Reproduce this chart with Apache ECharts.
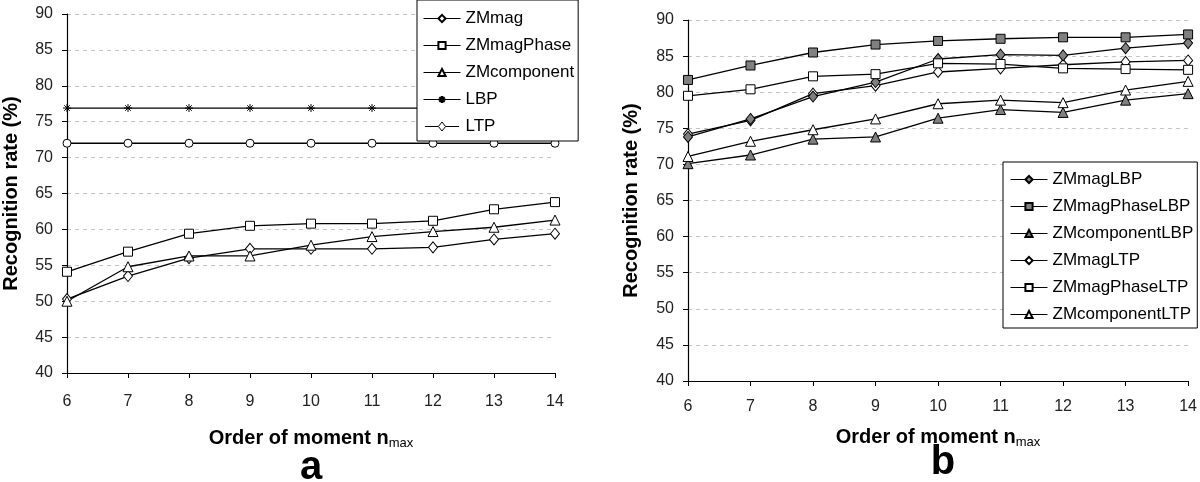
<!DOCTYPE html>
<html>
<head>
<meta charset="utf-8">
<script src="https://cdn.jsdelivr.net/npm/echarts@6/dist/echarts.min.js"></script>
<style>html,body{margin:0;padding:0;background:#fff}#c{width:1200px;height:482px}</style>
</head>
<body>
<div id="c"></div>
<script>
// ---- data ----
const orders = [6, 7, 8, 9, 10, 11, 12, 13, 14];
const yTicks = [40, 45, 50, 55, 60, 65, 70, 75, 80, 85, 90];

// panel a
const ZMmag        = [50.3, 53.5, 56.0, 57.3, 57.3, 57.3, 57.5, 58.6, 59.4];
const ZMmagPhase   = [54.1, 56.9, 59.4, 60.5, 60.8, 60.8, 61.2, 62.8, 63.8];
const ZMcomponent  = [50.0, 54.8, 56.3, 56.3, 57.8, 59.0, 59.7, 60.3, 61.3];
const LBP          = [76.9, 76.9, 76.9, 76.9, 76.9, 76.9, 76.9, 76.9, 76.9];
const LTP          = [72.0, 72.0, 72.0, 72.0, 72.0, 72.0, 72.0, 72.0, 72.0];

// panel b
const ZMmagLBP          = [73.8, 76.3, 79.4, 81.4, 84.6, 85.2, 85.1, 86.1, 86.8];
const ZMmagPhaseLBP     = [81.7, 83.7, 85.5, 86.6, 87.1, 87.4, 87.6, 87.6, 88.0];
const ZMcomponentLBP    = [70.1, 71.3, 73.5, 73.8, 76.4, 77.6, 77.2, 78.9, 79.8];
const ZMmagLTP          = [74.2, 76.1, 79.8, 80.9, 82.8, 83.3, 83.8, 84.2, 84.4];
const ZMmagPhaseLTP     = [79.5, 80.4, 82.2, 82.5, 84.0, 83.9, 83.3, 83.2, 83.1];
const ZMcomponentLTP    = [71.1, 73.2, 74.8, 76.3, 78.4, 78.9, 78.55, 80.3, 81.5];

const FONT = 'Liberation Sans, Arial, sans-serif';
const pairs = arr => orders.map((x, i) => [x, arr[i]]);
const star = 'path://M0,5L10,5M1.5,1.5L8.5,8.5M8.5,1.5L1.5,8.5M5,0L5,10';
const diamondLegend = 'path://M0,5H15M23,5H38M19,0L23,5L19,10L15,5Z';

function mk(name, data, idx, symbol, size, fill) {
  return {
    name, type: 'line', xAxisIndex: idx, yAxisIndex: idx,
    data: pairs(data), symbol, symbolSize: size, showSymbol: true,
    lineStyle: { color: '#000', width: 1.3 },
    itemStyle: { color: fill, borderColor: '#000', borderWidth: 1 },
    emphasis: { disabled: true }, animation: false
  };
}

function xAx(idx, nameGap, margin) {
  return {
    type: 'value', gridIndex: idx, min: orders[0], max: orders[orders.length - 1], interval: 1,
    axisLine: { lineStyle: { color: '#000', width: 1.2 } },
    axisTick: { show: true, length: 5, lineStyle: { color: '#000' } },
    axisLabel: { color: '#222', fontFamily: FONT, fontSize: 16, margin },
    splitLine: { show: false },
    name: '{b|Order of moment n}{s|max}', nameLocation: 'middle', nameGap,
    nameTextStyle: {
      rich: {
        b: { fontFamily: FONT, fontSize: 20, fontWeight: 'bold', color: '#000', lineHeight: 24 },
        s: { fontFamily: FONT, fontSize: 13, color: '#000', lineHeight: 24, padding: [10, 0, 0, 0] }
      }
    }
  };
}
function yAx(idx, nameGap) {
  return {
    type: 'value', gridIndex: idx, min: yTicks[0], max: yTicks[yTicks.length - 1], interval: 5,
    axisLine: { show: true, lineStyle: { color: '#000', width: 1.2 } },
    axisTick: { show: true, length: 5, lineStyle: { color: '#000' } },
    axisLabel: { color: '#222', fontFamily: FONT, fontSize: 16, margin: 14 },
    splitLine: { show: true, lineStyle: { color: '#c4c4c4', type: [4, 4], width: 1 } },
    name: 'Recognition rate (%)', nameLocation: 'middle', nameGap,
    nameTextStyle: { fontFamily: FONT, fontSize: 20, fontWeight: 'bold', color: '#000' }
  };
}

const legendCommon = {
  orient: 'vertical', backgroundColor: '#fff', borderColor: '#000', borderWidth: 1,
  itemWidth: 37, itemHeight: 9, itemGap: 10, borderRadius: 0,
  textStyle: { fontFamily: FONT, fontSize: 17, color: '#000' },
  lineStyle: { width: 1 },
  selectedMode: false
};

const option = {
  animation: false,
  backgroundColor: '#fff',
  grid: [
    { left: 67, top: 14, width: 488, height: 359 },
    { left: 688, top: 20, width: 502, height: 361 }
  ],
  xAxis: [xAx(0, 53, 21), xAx(1, 44, 18)],
  yAxis: [yAx(0, 46), yAx(1, 47)],
  legend: [
    Object.assign({}, legendCommon, {
      left: 417, top: 0, padding: [10, 4, 6, 6],
      data: ['ZMmag', 'ZMmagPhase', 'ZMcomponent', 'LBP',
        { name: 'LTP', icon: diamondLegend, itemStyle: { color: '#fff', borderColor: '#000', borderWidth: 1 } }]
    }),
    Object.assign({}, legendCommon, {
      left: 1003, top: 162, padding: [9, 4, 5, 7],
      data: ['ZMmagLBP', 'ZMmagPhaseLBP', 'ZMcomponentLBP', 'ZMmagLTP', 'ZMmagPhaseLTP', 'ZMcomponentLTP']
    })
  ],
  graphic: [
    { type: 'text', x: 311, y: 468, style: { text: 'a', font: 'bold 40px ' + FONT, fill: '#000', align: 'center', verticalAlign: 'middle' } },
    { type: 'text', x: 943, y: 463, style: { text: 'b', font: 'bold 40px ' + FONT, fill: '#000', align: 'center', verticalAlign: 'middle' } }
  ],
  series: [
    mk('LBP', LBP, 0, star, 8, '#000'),
    mk('LTP', LTP, 0, 'circle', 8, '#fff'),
    mk('ZMmag', ZMmag, 0, 'diamond', [9, 11], '#fff'),
    mk('ZMcomponent', ZMcomponent, 0, 'triangle', 10, '#fff'),
    mk('ZMmagPhase', ZMmagPhase, 0, 'rect', 9, '#fff'),

    mk('ZMcomponentLBP', ZMcomponentLBP, 1, 'triangle', 10, '#808080'),
    mk('ZMcomponentLTP', ZMcomponentLTP, 1, 'triangle', 10, '#fff'),
    mk('ZMmagLTP', ZMmagLTP, 1, 'diamond', [9, 11], '#fff'),
    mk('ZMmagLBP', ZMmagLBP, 1, 'diamond', [9, 11], '#808080'),
    mk('ZMmagPhaseLTP', ZMmagPhaseLTP, 1, 'rect', 9, '#fff'),
    mk('ZMmagPhaseLBP', ZMmagPhaseLBP, 1, 'rect', 9, '#808080')
  ]
};

const chart = echarts.init(document.getElementById('c'), null, { renderer: 'canvas' });
chart.setOption(option);
</script>
</body>
</html>
